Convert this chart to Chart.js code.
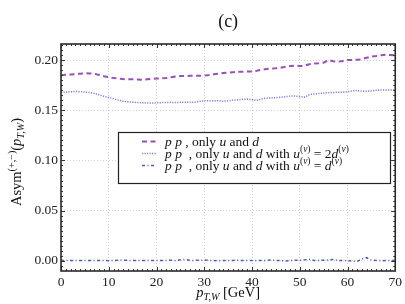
<!DOCTYPE html>
<html><head><meta charset="utf-8">
<script src="https://cdn.jsdelivr.net/npm/chart.js@4/dist/chart.umd.min.js"></script>
<style>html,body{margin:0;padding:0;background:#fff}#wrap{width:405px;height:304px}</style>
</head><body><div id="wrap"><canvas id="c" width="405" height="304"></canvas></div>
<script>
const pT = Array.from({length:71},(_,i)=>i);
const onlyUD = [0.1850,0.1855,0.1858,0.1862,0.1866,0.1870,0.1868,0.1865,0.1852,0.1840,
0.1832,0.1822,0.1818,0.1812,0.1810,0.1810,0.1808,0.1806,0.1810,0.1815,
0.1818,0.1820,0.1822,0.1830,0.1838,0.1842,0.1843,0.1844,0.1845,0.1846,
0.1846,0.1852,0.1860,0.1866,0.1872,0.1876,0.1880,0.1884,0.1886,0.1887,
0.1888,0.1895,0.1905,0.1912,0.1916,0.1920,0.1926,0.1934,0.1942,0.1946,
0.1942,0.1945,0.1960,0.1968,0.1970,0.1975,0.2002,0.1990,0.1985,0.1992,
0.2002,0.2003,0.2004,0.2010,0.2025,0.2036,0.2042,0.2050,0.2054,0.2052,0.2050];
const u2d = [0.1677,0.1682,0.1686,0.1688,0.1686,0.1682,0.1678,0.1668,0.1655,0.1640,
0.1628,0.1617,0.1602,0.1590,0.1585,0.1582,0.1578,0.1576,0.1574,0.1572,
0.1575,0.1577,0.1578,0.1580,0.1578,0.1580,0.1580,0.1581,0.1580,0.1590,
0.1595,0.1596,0.1594,0.1596,0.1590,0.1595,0.1602,0.1606,0.1610,0.1612,
0.1606,0.1600,0.1612,0.1622,0.1624,0.1627,0.1630,0.1636,0.1642,0.1644,
0.1636,0.1632,0.1655,0.1664,0.1668,0.1672,0.1676,0.1678,0.1680,0.1680,
0.1686,0.1694,0.1697,0.1692,0.1690,0.1695,0.1700,0.1703,0.1704,0.1704,0.1704];
const ud = [0.0003,0.0003,0.0002,0.0003,0.0002,0.0003,0.0002,0.0001,0.0003,0.0002,
0.0000,0.0002,0.0004,0.0005,0.0003,0.0002,0.0003,0.0002,0.0001,0.0002,
0.0003,0.0001,0.0003,0.0004,0.0000,0.0010,0.0012,0.0003,0.0003,0.0004,
0.0006,0.0003,0.0001,-0.0002,0.0003,0.0002,0.0003,0.0004,0.0002,0.0001,
0.0003,0.0002,0.0001,0.0003,0.0008,0.0002,0.0001,-0.0003,0.0002,0.0004,
0.0003,0.0008,0.0013,0.0002,0.0003,0.0005,0.0008,0.0011,0.0003,0.0002,
0.0001,-0.0004,-0.0008,0.0016,0.0030,0.0006,0.0002,0.0000,0.0001,0.0002,0.0002];
const xTicks = [0,10,20,30,40,50,60,70];
const yTicks = [0.00,0.05,0.10,0.15,0.20];
const FONT = '"Liberation Serif", "DejaVu Serif", serif';

function pts(arr){ return arr.map((v,i)=>({x:pT[i], y:v})); }

function drawRich(ctx, segs, x, y, size, align){
  const parts = segs.map(s=>{
    const sz = (s.sup||s.sub) ? size*0.7 : size;
    const f = (s.it?'italic ':'') + sz + 'px ' + FONT;
    ctx.font = f;
    return {s, f, w: ctx.measureText(s.t).width, dy: s.sup ? -size*0.38 : (s.sub ? size*0.22 : 0)};
  });
  const total = parts.reduce((a,p)=>a+p.w,0);
  let cx = align==='center' ? x - total/2 : x;
  ctx.textBaseline = 'alphabetic';
  ctx.textAlign = 'left';
  for(const p of parts){ ctx.font = p.f; ctx.fillText(p.s.t, cx, y + p.dy); cx += p.w; }
}

const legendRows = [
  {ds:0, segs:[{t:'p p',it:1},{t:' , only '},{t:'u',it:1},{t:' and '},{t:'d',it:1}]},
  {ds:1, segs:[{t:'p p',it:1},{t:'  , only '},{t:'u',it:1},{t:' and '},{t:'d',it:1},{t:' with '},{t:'u',it:1},{t:'(',sup:1},{t:'v',sup:1,it:1},{t:')',sup:1},{t:' = 2'},{t:'d',it:1},{t:'(',sup:1},{t:'v',sup:1,it:1},{t:')',sup:1}]},
  {ds:2, segs:[{t:'p p',it:1},{t:'  , only '},{t:'u',it:1},{t:' and '},{t:'d',it:1},{t:' with '},{t:'u',it:1},{t:'(',sup:1},{t:'v',sup:1,it:1},{t:')',sup:1},{t:' = '},{t:'d',it:1},{t:'(',sup:1},{t:'v',sup:1,it:1},{t:')',sup:1}]}
];

const deco = {
  id:'deco',
  afterDraw(chart){
    const ctx = chart.ctx, a = chart.chartArea, xs = chart.scales.x, ys = chart.scales.y;
    ctx.save();
    ctx.strokeStyle = '#333'; ctx.lineWidth = 1;
    for(let v=0; v<=70; v+=1){
      const px = Math.round(xs.getPixelForValue(v))+0.5;
      const L = (v%10===0)?4:2;
      ctx.beginPath(); ctx.moveTo(px,a.bottom); ctx.lineTo(px,a.bottom-L);
      ctx.moveTo(px,a.top); ctx.lineTo(px,a.top+L); ctx.stroke();
    }
    for(let k=-2; k<=43; k++){
      const v = k*0.005;
      const py = Math.round(ys.getPixelForValue(v))+0.5;
      if(py < a.top || py > a.bottom) continue;
      const L = (k%10===0)?4:2;
      ctx.beginPath(); ctx.moveTo(a.left,py); ctx.lineTo(a.left+L,py);
      ctx.moveTo(a.right,py); ctx.lineTo(a.right-L,py); ctx.stroke();
    }
    ctx.strokeStyle = '#2a2a2a'; ctx.lineWidth = 1.6;
    ctx.strokeRect(a.left, a.top, a.right-a.left, a.bottom-a.top);
    ctx.fillStyle = '#111';
    drawRich(ctx, [{t:'(c)'}], (a.left+a.right)/2, 27, 18, 'center');
    drawRich(ctx, [{t:'p',it:1},{t:'T,W',it:1,sub:1},{t:' [GeV]'}], (a.left+a.right)/2, 297, 14.5, 'center');
    ctx.save(); ctx.translate(21, 162); ctx.rotate(-Math.PI/2);
    drawRich(ctx, [{t:'Asym'},{t:'(+,−)',sup:1},{t:'('},{t:'p',it:1},{t:'T,W',it:1,sub:1},{t:')'}], 0, 0, 14.5, 'center');
    ctx.restore();
    const bx=118, by=132, bw=272, bh=51;
    ctx.fillStyle='#fff'; ctx.fillRect(bx,by,bw,bh);
    ctx.strokeStyle='#222'; ctx.lineWidth=1.2; ctx.strokeRect(bx+0.5,by+0.5,bw,bh);
    const rowsY = [141.5,153.5,165.5];
    legendRows.forEach((r,i)=>{
      const ds = chart.data.datasets[r.ds];
      ctx.save();
      ctx.strokeStyle = ds.borderColor; ctx.lineWidth = ds.borderWidth;
      ctx.setLineDash(ds.borderDash||[]);
      ctx.beginPath(); ctx.moveTo(142, rowsY[i]); ctx.lineTo(156, rowsY[i]); ctx.stroke();
      ctx.restore();
      ctx.fillStyle='#111';
      drawRich(ctx, r.segs, 165, rowsY[i]+4, 13.5, 'left');
    });
    ctx.restore();
  }
};

new Chart(document.getElementById('c'), {
  type:'line',
  data:{ datasets:[
    {label:'p p , only u and d', data:pts(onlyUD), borderColor:'#9650b8', borderWidth:2, borderDash:[5,3.5], pointRadius:0, fill:false, tension:0},
    {label:'p p , only u and d with u(v) = 2d(v)', data:pts(u2d), borderColor:'#7f7fdc', borderWidth:1.5, borderDash:[1.2,1.3], pointRadius:0, fill:false, tension:0},
    {label:'p p , only u and d with u(v) = d(v)', data:pts(ud), borderColor:'#4a5cc0', borderWidth:1.5, borderDash:[3,2.5,1,2.5], pointRadius:0, fill:false, tension:0}
  ]},
  options:{
    responsive:false, animation:false, devicePixelRatio:1,
    layout:{padding:{top:44,right:8,left:0,bottom:0}},
    plugins:{legend:{display:false}, title:{display:false}, tooltip:{enabled:false}},
    scales:{
      x:{type:'linear', min:0, max:70,
        afterBuildTicks(s){ s.ticks = xTicks.map(v=>({value:v})); },
        afterFit(s){ s.height = 33; },
        grid:{color:'#c8c8c8', lineWidth:0.8, drawTicks:false},
        border:{display:false, dash:[1,2]},
        ticks:{padding:3, color:'#222', font:{family:FONT, size:13.5}, maxRotation:0, callback:v=>String(v)}
      },
      y:{type:'linear', min:-0.0103, max:0.2162,
        afterBuildTicks(s){ s.ticks = yTicks.map(v=>({value:v})); },
        afterFit(s){ s.width = 61; },
        grid:{color:'#c8c8c8', lineWidth:0.8, drawTicks:false},
        border:{display:false, dash:[1,2]},
        ticks:{padding:3, color:'#222', font:{family:FONT, size:13.5}, callback:v=>Number(v).toFixed(2)}
      }
    }
  },
  plugins:[deco]
});
</script></body></html>
